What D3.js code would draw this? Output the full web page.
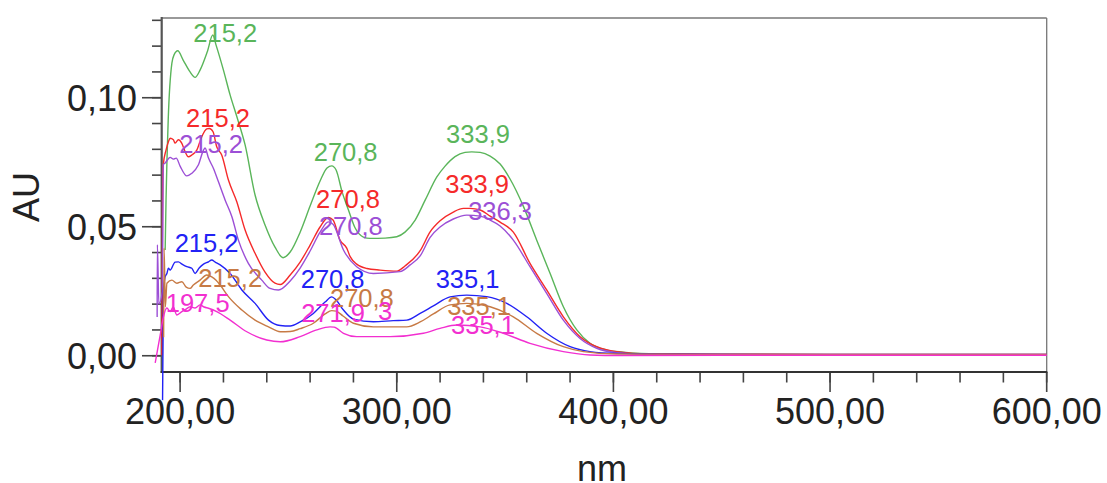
<!DOCTYPE html>
<html>
<head>
<meta charset="utf-8">
<script src="https://cdn.jsdelivr.net/npm/d3@7"></script>
<style>
  body { margin: 0; background: #fff; }
  text { font-family: "Liberation Sans", Arial, sans-serif; }
</style>
</head>
<body>
<script>
// spectra: [nm, AU]
const green = [[193.1,0.041],[193.5,0.0603],[194.5,0.0913],[196.2,0.1134],[197.2,0.1166],[198.9,0.1182],[201.4,0.1146],[204.6,0.1100],[206.9,0.1079],[209.2,0.1107],[212.5,0.1177],[215.1,0.1243],[216.6,0.1204],[220,0.1107],[223.1,0.1010],[226.2,0.0926],[230,0.0817],[234.6,0.0623],[239.2,0.0507],[243.8,0.0421],[247.5,0.0380],[250.8,0.0402],[255.4,0.0479],[260,0.0580],[264.6,0.0677],[267.8,0.0728],[270,0.0736],[272,0.0720],[274.8,0.0634],[277.7,0.0565],[280.8,0.0495],[284.6,0.0460],[287.7,0.0455],[294.6,0.0456],[300,0.0461],[303.8,0.0479],[308.5,0.0526],[313.1,0.0603],[318.5,0.0693],[322.3,0.0735],[326.9,0.0772],[331.5,0.0788],[334.6,0.0790],[338.5,0.0788],[343.1,0.0774],[347.7,0.0743],[352.3,0.0685],[358.5,0.0578],[364.6,0.0448],[370.8,0.0319],[376.9,0.0190],[383.1,0.0100],[389.2,0.0048],[396.9,0.0022],[404.5,0.0014],[421.5,0.0007],[450,0.0005],[500,0.0004],[550,0.0004],[600,0.0004]];

const red = [[191.6,0.0002],[191.9,0.0603],[192.2,0.0739],[193.5,0.0797],[194.6,0.0829],[195.4,0.0843],[196.9,0.0837],[197.7,0.0824],[199.2,0.0837],[200.8,0.0823],[202.3,0.0791],[203.8,0.0771],[205.4,0.0778],[207.7,0.0797],[210,0.0849],[212.3,0.0879],[213.5,0.0881],[215.2,0.0868],[216.9,0.0810],[219.2,0.0778],[222.3,0.0681],[226.2,0.0596],[230,0.0487],[234.6,0.0397],[239.2,0.0324],[243.8,0.0281],[246.2,0.0276],[250.8,0.0313],[255.4,0.0363],[260,0.0429],[264.6,0.0499],[268.4,0.0536],[270.6,0.0526],[273.8,0.0448],[276.9,0.0417],[278.5,0.0384],[281.5,0.0355],[286.2,0.0338],[292.3,0.0332],[300,0.0328],[303.8,0.0348],[310.8,0.0407],[315.4,0.0480],[320,0.0523],[326.1,0.0557],[330.8,0.0571],[333.8,0.0571],[338.5,0.0565],[343.1,0.0541],[347.7,0.0518],[353.8,0.0479],[361.5,0.0358],[369.2,0.0255],[376.9,0.0151],[384.6,0.0074],[392.3,0.0035],[401.5,0.0016],[416.9,0.0007],[450,0.0006],[500,0.0005],[550,0.0005],[600,0.0005]];

const purple = [[189.4,0.0150],[189.5,0.0430],[190.2,0.0200],[191.8,0.0250],[192.2,0.0740],[193.1,0.0747],[195.4,0.0769],[196.9,0.0762],[198.2,0.0766],[200,0.0735],[203.1,0.0697],[205.4,0.0707],[208.4,0.0739],[210.8,0.0797],[211.5,0.0805],[213.1,0.0766],[215.4,0.0726],[217.7,0.0674],[220.8,0.0603],[223.9,0.0539],[226.9,0.0448],[231.5,0.0358],[237.7,0.0293],[241.5,0.0261],[245.4,0.0255],[250.8,0.0290],[255.4,0.0340],[260,0.0406],[264.6,0.0479],[268.4,0.0519],[270.6,0.0510],[275.4,0.0410],[281.5,0.0345],[289.2,0.0319],[301.5,0.0326],[306.2,0.0352],[310.8,0.0387],[315.4,0.0459],[320,0.0499],[326.1,0.0530],[332.3,0.0545],[338.5,0.0541],[343.1,0.0526],[347.7,0.0503],[353.8,0.0448],[361.5,0.0345],[369.2,0.0242],[376.9,0.0138],[384.6,0.0067],[392.3,0.0029],[401.5,0.0012],[416.9,0.0005],[450,0.0004],[500,0.0004],[550,0.0004],[600,0.0004]];

const blue = [[191.9,-0.0172],[192.3,0.0255],[193.1,0.0306],[193.9,0.0319],[194.6,0.0339],[195.4,0.0332],[197.7,0.0363],[199.2,0.0364],[200.9,0.0355],[203.1,0.0345],[205.4,0.0339],[206.9,0.0319],[208.8,0.0340],[210.8,0.0355],[213.1,0.0364],[214.6,0.0371],[216.2,0.0363],[218.5,0.0352],[223.1,0.0319],[228.5,0.0255],[234.6,0.0203],[240.8,0.0138],[246.2,0.0117],[250.8,0.0115],[255.4,0.0131],[261.5,0.0164],[266.9,0.0208],[270,0.0228],[272,0.0216],[275.4,0.0177],[280,0.0142],[289.2,0.0132],[298.4,0.0136],[304.6,0.0138],[310.8,0.0164],[316.9,0.0193],[324.6,0.0228],[332.3,0.0235],[341.5,0.0229],[350.8,0.0203],[360,0.0151],[369.2,0.0087],[380,0.0035],[389.2,0.0016],[401.5,0.0009],[430,0.0006],[500,0.0005],[550,0.0005],[600,0.0005]];

const brown = [[192.4,0.0072],[192.6,0.0417],[193.2,0.0190],[193.9,0.0281],[196.2,0.0293],[198.5,0.0281],[200.8,0.0287],[202.8,0.0266],[204.6,0.0261],[206.1,0.0274],[209.2,0.0293],[212.3,0.0313],[214.6,0.0306],[216.6,0.0293],[218.5,0.0274],[222.3,0.0229],[228.5,0.0177],[234.6,0.0138],[240.8,0.0112],[246.2,0.0093],[250.8,0.0094],[255.4,0.0105],[261.5,0.0126],[266.9,0.0162],[270,0.0175],[272,0.0173],[275.2,0.0154],[280,0.0126],[289.2,0.0112],[304.6,0.0112],[310.8,0.0131],[316.9,0.0162],[324.6,0.0197],[332.3,0.0203],[343.1,0.0190],[353.8,0.0151],[364.6,0.0087],[376.9,0.0035],[386.2,0.0016],[401.5,0.0007],[450,0.0005],[500,0.0005],[550,0.0005],[600,0.0005]];

const magenta = [[188.5,-0.0028],[190.8,0.0080],[192.3,0.0151],[193.9,0.0185],[195.4,0.0171],[196.8,0.0189],[198.5,0.0158],[200.8,0.0171],[202.8,0.0181],[204.6,0.0190],[206.9,0.0185],[209.2,0.0197],[211.1,0.0189],[213.1,0.0184],[216.9,0.0171],[223.1,0.0138],[230.8,0.0093],[240,0.0061],[246.2,0.0054],[255.4,0.0074],[263.1,0.0100],[269.2,0.0112],[271.1,0.0111],[275.4,0.0087],[281.5,0.0074],[296.9,0.0074],[312.3,0.0087],[320,0.0106],[327.7,0.0119],[338.5,0.0112],[349.2,0.0087],[361.5,0.0048],[376.9,0.0016],[389.2,0.0003],[403,0.0001],[450,0.0002],[500,0.0002],[550,0.0002],[600,0.0002]];

// peak labels: [text, nm, AU] (label baseline anchor)
const greenLabels = [["215,2",220.8,0.1217],["270,8",276.4,0.0756],["333,9",337.5,0.0823]];
const redLabels = [["215,2",217.5,0.0888],["270,8",277.5,0.0571],["333,9",337.1,0.0629]];
const purpleLabels = [["215,2",214.3,0.0784],["270,8",278.8,0.0468],["336,3",347.7,0.0526]];
const blueLabels = [["215,2",212.2,0.0403],["270,8",270.4,0.0261],["335,1",332.7,0.0261]];
const brownLabels = [["215,2",223.1,0.0267],["270,8",283.9,0.0190],["335,1",338.0,0.0158]];
const magentaLabels = [["197,5",208.1,0.0171],["271,9",270.6,0.0132],["3",294.6,0.0138],["335,1",339.8,0.0084]];

const xMajor = [200, 300, 400, 500, 600];
const xMinor = d3.range(200, 601, 20);
const yMajor = [0, 0.05, 0.10];
const yMinor = d3.range(0, 0.1301, 0.01);

const series = [
  {data: green, labels: greenLabels, color: "#5ab55a"},
  {data: red, labels: redLabels, color: "#f52a2a"},
  {data: purple, labels: purpleLabels, color: "#9c4fd6"},
  {data: blue, labels: blueLabels, color: "#2222f5"},
  {data: brown, labels: brownLabels, color: "#c77a45"},
  {data: magenta, labels: magentaLabels, color: "#f22fd0"}
];

const width = 1107, height = 483;
const svg = d3.select("body").append("svg")
  .attr("width", width)
  .attr("height", height);

const x = d3.scaleLinear().domain([191.5, 600]).range([161.7, 1046.7]);
const y = d3.scaleLinear().domain([-0.0063, 0.1309]).range([372, 18]);

const fmt = v => d3.format(".2f")(v).replace(".", ",");

// frame top/right
svg.append("line").attr("x1", x.range()[0]).attr("x2", x.range()[1]).attr("y1", 18).attr("y2", 18)
  .attr("stroke", "#777").attr("stroke-width", 1.3);
svg.append("line").attr("x1", x.range()[1]).attr("x2", x.range()[1]).attr("y1", 18).attr("y2", 372)
  .attr("stroke", "#777").attr("stroke-width", 1.3);

// y ticks
svg.selectAll(".yminor").data(yMinor).enter().append("line")
  .attr("x1", 152).attr("x2", 161.7)
  .attr("y1", d => y(d)).attr("y2", d => y(d))
  .attr("stroke", "#444").attr("stroke-width", 1.6);
svg.selectAll(".ymajor").data(yMajor).enter().append("line")
  .attr("x1", 142).attr("x2", 161.7)
  .attr("y1", d => y(d)).attr("y2", d => y(d))
  .attr("stroke", "#444").attr("stroke-width", 1.6);
svg.selectAll(".ylab").data(yMajor).enter().append("text")
  .attr("x", 137).attr("y", d => y(d) + 13)
  .attr("text-anchor", "end")
  .attr("font-size", 36).attr("fill", "#222")
  .text(fmt);

// x ticks
svg.selectAll(".xminor").data(xMinor).enter().append("line")
  .attr("x1", d => x(d)).attr("x2", d => x(d))
  .attr("y1", 372).attr("y2", 382.5)
  .attr("stroke", "#444").attr("stroke-width", 1.6);
svg.selectAll(".xmajor").data(xMajor).enter().append("line")
  .attr("x1", d => x(d)).attr("x2", d => x(d))
  .attr("y1", 372).attr("y2", 392)
  .attr("stroke", "#444").attr("stroke-width", 1.6);
svg.selectAll(".xlab").data(xMajor).enter().append("text")
  .attr("x", d => x(d)).attr("y", 424)
  .attr("text-anchor", "middle")
  .attr("font-size", 36).attr("fill", "#222")
  .text(fmt);

// axis lines
svg.append("line").attr("x1", 161.7).attr("x2", 161.7).attr("y1", 17).attr("y2", 373)
  .attr("stroke", "#555").attr("stroke-width", 2.2);
svg.append("line").attr("x1", 160.6).attr("x2", 1047.3).attr("y1", 372).attr("y2", 372)
  .attr("stroke", "#333").attr("stroke-width", 2);

// axis titles
svg.append("text")
  .attr("transform", "translate(39,197) rotate(-90)")
  .attr("text-anchor", "middle")
  .attr("font-size", 36).attr("fill", "#222")
  .text("AU");
svg.append("text")
  .attr("x", 602).attr("y", 481)
  .attr("text-anchor", "middle")
  .attr("font-size", 36).attr("fill", "#222")
  .text("nm");

const line = d3.line()
  .x(d => x(d[0]))
  .y(d => y(d[1]))
  .curve(d3.curveMonotoneX);

svg.selectAll(".spec").data(series).enter().append("path")
  .attr("d", d => line(d.data))
  .attr("fill", "none")
  .attr("stroke", d => d.color)
  .attr("stroke-width", 1.4);

series.forEach(function(s){
  svg.selectAll(null).data(s.labels).enter().append("text")
    .attr("x", d => x(d[1]))
    .attr("y", d => y(d[2]))
    .attr("text-anchor", "middle")
    .attr("font-size", 25.5)
    .attr("fill", s.color)
    .text(d => d[0]);
});
</script>
</body>
</html>
